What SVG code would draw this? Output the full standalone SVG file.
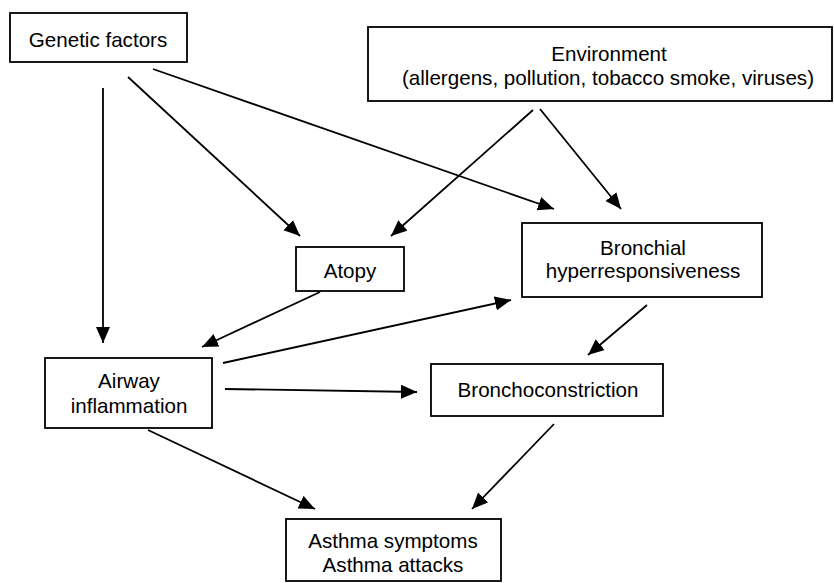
<svg xmlns="http://www.w3.org/2000/svg" width="834" height="583" viewBox="0 0 834 583">
<defs>
<marker id="ah" markerUnits="userSpaceOnUse" markerWidth="17" markerHeight="16" refX="16" refY="7.5" orient="auto">
<path d="M0,0.5 L16,7.5 L0,14.5 z" fill="#000"/>
</marker>
<style>
.box{fill:#fff;stroke:#000;stroke-width:1.8}
.t{font-family:"Liberation Sans",Arial,sans-serif;font-size:20.6px;fill:#000;text-anchor:middle}
.c{stroke:#000;stroke-width:1.8;fill:none;marker-end:url(#ah)}
</style>
</defs>
<rect width="834" height="583" fill="#fff"/>
<g id="connectors">
<line class="c" x1="103" y1="88" x2="103" y2="343"/>
<line class="c" x1="128" y1="77" x2="300" y2="236"/>
<line class="c" x1="153" y1="69" x2="554" y2="209"/>
<line class="c" x1="533" y1="110" x2="391" y2="236"/>
<line class="c" x1="540" y1="109" x2="621" y2="209"/>
<line class="c" x1="320" y1="292" x2="202" y2="347"/>
<line class="c" x1="223" y1="363" x2="511" y2="300"/>
<line class="c" x1="225" y1="389" x2="417" y2="392"/>
<line class="c" x1="647" y1="305" x2="588" y2="355"/>
<line class="c" x1="148" y1="430" x2="315" y2="509"/>
<line class="c" x1="554" y1="424" x2="472" y2="509"/>
</g>
<g id="genetic">
<rect class="box" x="10" y="13" width="177" height="49"/>
<text class="t" x="98" y="47">Genetic factors</text>
</g>
<g id="environment">
<rect class="box" x="368" y="27" width="464" height="74"/>
<text class="t" x="609" y="61">Environment</text>
<text class="t" x="608" y="85">(allergens, pollution, tobacco smoke, viruses)</text>
</g>
<g id="atopy">
<rect class="box" x="296" y="247" width="108" height="44"/>
<text class="t" x="350" y="278">Atopy</text>
</g>
<g id="bronchial">
<rect class="box" x="522" y="223" width="240" height="74"/>
<text class="t" x="643" y="255">Bronchial</text>
<text class="t" x="643" y="278">hyperresponsiveness</text>
</g>
<g id="airway">
<rect class="box" x="45" y="358" width="167" height="70"/>
<text class="t" x="129" y="388">Airway</text>
<text class="t" x="129" y="413">inflammation</text>
</g>
<g id="bronchoconstriction">
<rect class="box" x="431" y="364" width="232" height="52"/>
<text class="t" x="548" y="397">Bronchoconstriction</text>
</g>
<g id="asthma">
<rect class="box" x="286" y="519" width="215" height="62"/>
<text class="t" x="393" y="548">Asthma symptoms</text>
<text class="t" x="393" y="572">Asthma attacks</text>
</g>
</svg>
